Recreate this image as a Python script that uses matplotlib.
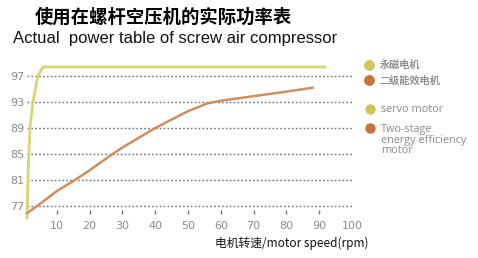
import matplotlib.pyplot as plt
from matplotlib.lines import Line2D

# values
servo_x = [0.9, 1.3, 1.8, 2.7, 4.2, 5.8, 91.8]
servo_y = [75.2, 83.0, 89.0, 93.0, 97.0, 98.4, 98.4]

two_stage_x = [0.9, 4, 10, 15.5, 20, 26.7, 30, 40, 50, 56, 60, 70, 80, 88]
two_stage_y = [75.9, 77.0, 79.3, 81.0, 82.5, 84.9, 86.0, 89.0, 91.6, 92.8, 93.2, 93.9, 94.6, 95.2]

y_ticks = [77, 81, 85, 89, 93, 97]
x_ticks = [10, 20, 30, 40, 50, 60, 70, 80, 90, 100]

legend_cn = ['永磁电机', '二级能效电机']
legend_en = ['servo motor', 'Two-stage']
legend_en_more = 'energy efficiency\nmotor'

yellow = '#d8d66e'
orange = '#cf8e5e'
dot_yellow = '#d2c458'
dot_orange = '#c8733a'

cjk = ['Noto Sans CJK SC', 'DejaVu Sans']

fig = plt.figure(figsize=(4.78, 2.58), dpi=100)
ax = fig.add_axes([27 / 478, 1 - 214 / 258, 325 / 478, 150 / 258])

ax.plot(servo_x, servo_y, color=yellow, lw=2, clip_on=False, zorder=3)
ax.plot(two_stage_x, two_stage_y, color=orange, lw=1.8, clip_on=False, zorder=3)

ax.set_xlim(0.9, 99.4)
ax.set_ylim(75.77, 98.85)
ax.set_yticks(y_ticks)
ax.set_xticks(x_ticks)
ax.yaxis.grid(True, linestyle=(0, (1.2, 1.6)), color='#6e6e6e', lw=1)
ax.tick_params(axis='y', length=0, pad=2, labelsize=8, labelcolor='#8a8a8a')
ax.tick_params(axis='x', direction='in', length=3, width=1, color='#777777',
               pad=5, labelsize=8, labelcolor='#8a8a8a')
ax.xaxis.get_major_ticks()[-1].tick1line.set_visible(False)
for s in ax.spines.values():
    s.set_visible(False)

fig.text(35 / 478, 1 - 17 / 258, '使用在螺杆空压机的实际功率表', family=cjk,
         fontsize=13.2, fontweight='bold', va='center', ha='left')
fig.text(13 / 478, 1 - 38 / 258, 'Actual  power table of screw air compressor',
         family=['Liberation Sans Narrow', 'Liberation Sans'], fontsize=12,
         va='center', ha='left', color='#111111')

fig.text(292 / 478, 1 - 243 / 258, '电机转速/motor speed(rpm)', family=cjk,
         fontsize=8.5, va='center', ha='center', color='#111111')

def handle(c):
    return Line2D([], [], marker='o', ls='', markersize=6.5, color=c)

leg1 = fig.legend([handle(dot_yellow), handle(dot_orange)], legend_cn,
                  loc='upper left', bbox_to_anchor=(359 / 478, 1 - 55 / 258),
                  frameon=False, handletextpad=0.5, labelspacing=0.55,
                  handlelength=1, borderpad=0, prop={'family': cjk, 'size': 7.3})
for t in leg1.get_texts():
    t.set_color('#8a8a8a')
leg2 = fig.legend([handle(dot_yellow), handle(dot_orange)], legend_en,
                  loc='upper left', bbox_to_anchor=(359 / 478, 1 - 99 / 258),
                  frameon=False, handletextpad=0.5, labelspacing=0.75,
                  handlelength=1, borderpad=0,
                  prop={'family': 'Open Sans', 'size': 7.8})
for t in leg2.get_texts():
    t.set_color('#8a8a8a')
fig.add_artist(leg1)

# continuation lines of the last legend label, under "Two-stage"
fig.canvas.draw()
bb = leg2.get_texts()[1].get_window_extent().transformed(fig.transFigure.inverted())
fig.text(bb.x0, bb.y0 - 0.002, legend_en_more, family='Open Sans', fontsize=7.8,
         color='#8a8a8a', va='top', ha='left', linespacing=0.9)

fig.savefig('out.png', dpi=100)
